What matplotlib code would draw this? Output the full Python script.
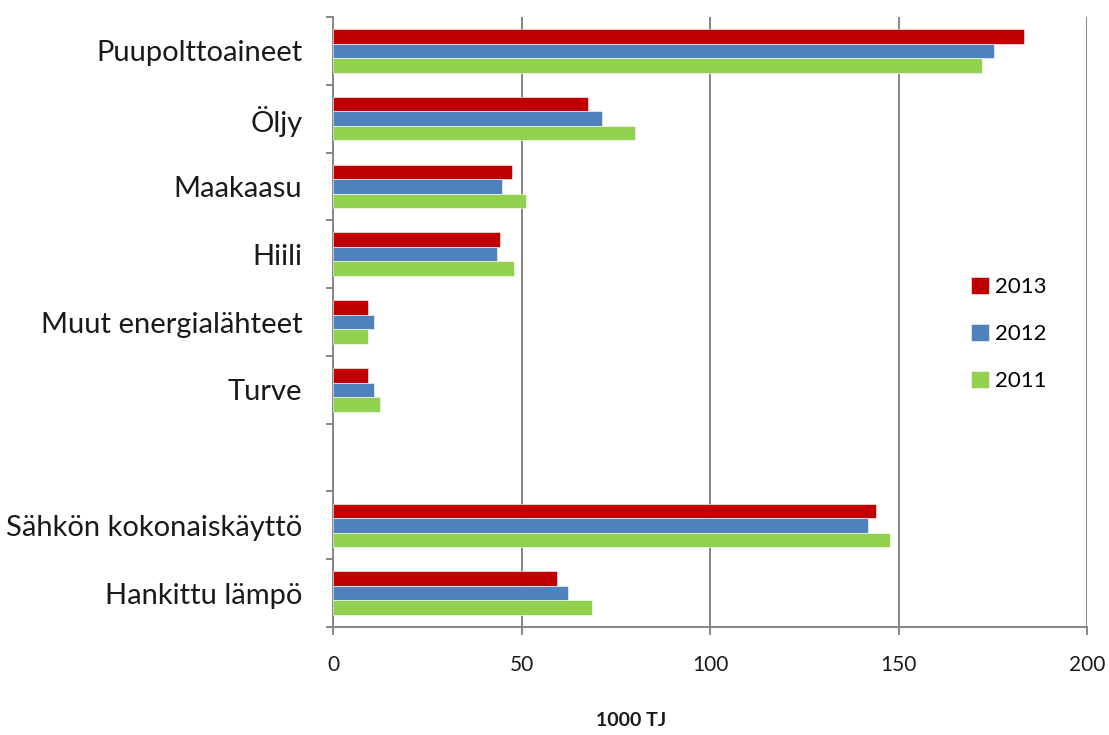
import numpy as np
import matplotlib
matplotlib.use("Agg")
import matplotlib.pyplot as plt

plt.rcParams['font.family'] = ['Lato', 'DejaVu Sans']

categories = ['Puupolttoaineet', 'Öljy', 'Maakaasu', 'Hiili',
              'Muut energialähteet', 'Turve', '',
              'Sähkön kokonaiskäyttö', 'Hankittu lämpö']
years = ['2013', '2012', '2011']
v2013 = [183.3, 67.7, 47.6, 44.4, 9.3, 9.3, np.nan, 144.1, 59.5]
v2012 = [175.3, 71.3, 44.9, 43.4, 10.9, 10.9, np.nan, 141.9, 62.2]
v2011 = [172.2, 80.2, 51.3, 48.1, 9.3, 12.5, np.nan, 147.8, 68.8]
colors = ['#C00000', '#4F81BD', '#92D050']

fig = plt.figure(figsize=(11.09, 7.35), dpi=100)
ax = fig.add_axes([0.3003, 0.1469, 0.6799, 0.8300])

pos = np.arange(len(categories))
h = 0.214
for k, (vals, col, lab) in enumerate(zip([v2013, v2012, v2011], colors, years)):
    ax.barh(pos + (k - 1) * h, vals, height=h, color=col, label=lab,
            edgecolor='white', linewidth=0.4, zorder=3)

ax.set_ylim(len(categories) - 0.5, -0.5)
ax.set_xlim(0, 200)

gray = '#868686'
ax.set_xticks([0, 50, 100, 150, 200])
ax.grid(axis='x', color=gray, linewidth=1.4, zorder=0)
ax.set_yticks(pos)
ax.set_yticklabels(categories, fontsize=21, color='#1a1a1a')
ax.set_yticks(np.arange(len(categories) + 1) - 0.5, minor=True)
ax.tick_params(axis='y', which='major', length=0, pad=22)
ax.tick_params(axis='y', which='minor', length=5, width=1.4, color=gray)
ax.tick_params(axis='x', length=6, width=1.4, color=gray, labelsize=15,
               labelcolor='#1a1a1a', pad=14)

for s in ['top', 'right']:
    ax.spines[s].set_visible(False)
for s in ['left', 'bottom']:
    ax.spines[s].set_color(gray)
    ax.spines[s].set_linewidth(1.4)

ax.legend(loc='center left', bbox_to_anchor=(0.846, 0.48), frameon=False,
          fontsize=16, handlelength=0.8, handleheight=0.8, handletextpad=0.3,
          labelspacing=1.2, borderpad=0, borderaxespad=0)

fig.text(0.569, 0.008, '1000 TJ', fontsize=14, fontweight='bold',
         ha='center', va='bottom', color='#1a1a1a')

fig.savefig('out.png', dpi=100, facecolor='white')
